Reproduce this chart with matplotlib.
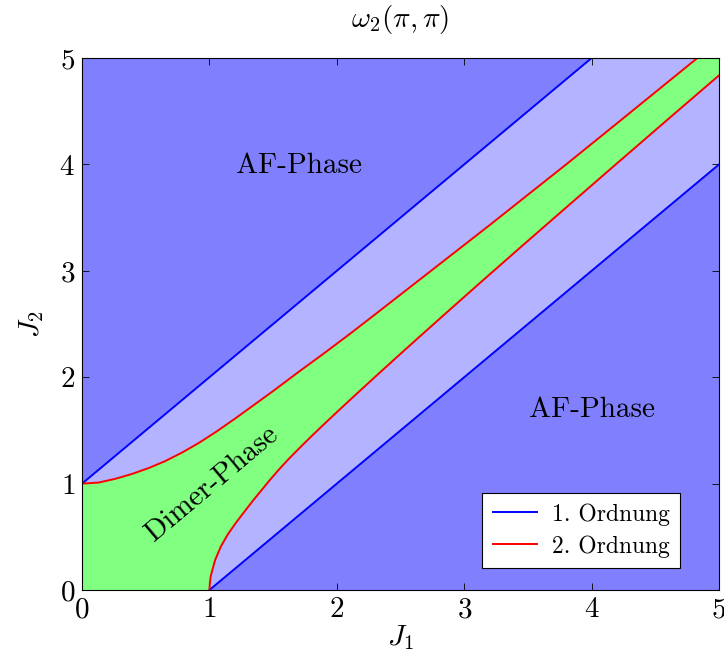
import numpy as np
import matplotlib
matplotlib.use("Agg")
import matplotlib.pyplot as plt

plt.rcParams['font.family'] = 'cmr10'
plt.rcParams['mathtext.fontset'] = 'cm'
plt.rcParams['axes.formatter.use_mathtext'] = True

# Grenzen 1. Ordnung (J2 = J1 +/- 1)
ord1_oben_x = [0, 4]
ord1_oben_y = [1, 5]
ord1_unten_x = [1, 5]
ord1_unten_y = [0, 4]

# Grenzen 2. Ordnung
ord2_oben_x = [0.0, 0.13, 0.26, 0.39, 0.52, 0.65, 0.79, 0.92, 1.05, 1.2, 1.35, 1.5,
               1.7, 1.9, 2.1, 2.3, 2.6, 2.9, 3.2, 3.5, 3.8, 4.1, 4.45, 4.83]
ord2_oben_y = [1.0, 1.01, 1.045, 1.09, 1.145, 1.21, 1.295, 1.385, 1.485, 1.61, 1.74, 1.87,
               2.05, 2.225, 2.405, 2.59, 2.87, 3.15, 3.43, 3.715, 4.0, 4.29, 4.63, 5.0]
ord2_unten_x = [1.0, 1.003, 1.01, 1.044, 1.09, 1.148, 1.21, 1.28, 1.345, 1.41, 1.475,
                1.54, 1.605, 1.67, 1.74, 1.816, 1.9, 1.986, 2.14, 2.30, 2.45, 2.6, 2.889,
                3.15, 3.438, 3.8, 4.2, 4.6, 5.0]
ord2_unten_y = [0.0, 0.06, 0.13, 0.28, 0.41, 0.53, 0.635, 0.745, 0.845, 0.94, 1.035,
                1.125, 1.21, 1.29, 1.374, 1.463, 1.559, 1.656, 1.827, 2.003, 2.166, 2.328,
                2.637, 2.914, 3.217, 3.595, 4.011, 4.425, 4.837]

ticks = [0, 1, 2, 3, 4, 5]

fig = plt.figure(figsize=(7.24, 6.67), dpi=100)
ax = fig.add_axes([0.1133, 0.1154, 0.8798, 0.7976])

#Hintergrund
ax.fill_between([0, 5], [0, 0], [5, 5], color="#8080ff", lw=0, zorder=0)

#Bereich zwischen den blauen Linien
px = [0, 0] + ord1_oben_x + [5, 5] + ord1_unten_x[::-1]
py = [0, 1] + ord1_oben_y + [5, 4] + ord1_unten_y[::-1]
ax.fill(px, py, color="#b3b3ff", lw=0, zorder=1)

#Dimer-Bereich zwischen den roten Linien
gx = [0] + ord2_oben_x + [5] + ord2_unten_x[::-1]
gy = [0] + ord2_oben_y + [5] + ord2_unten_y[::-1]
ax.fill(gx, gy, color="#80ff80", lw=0, zorder=2)

ax.plot(ord1_oben_x, ord1_oben_y, color="blue", lw=1.4, label="1. Ordnung", zorder=3)
ax.plot(ord1_unten_x, ord1_unten_y, color="blue", lw=1.4, zorder=3)
ax.plot(ord2_oben_x, ord2_oben_y, color="red", lw=1.4, label="2. Ordnung", zorder=3)
ax.plot(ord2_unten_x, ord2_unten_y, color="red", lw=1.4, zorder=3)

ax.text(1.70, 3.99, "AF-Phase", fontsize=21, ha="center", va="center", zorder=4)
ax.text(4.0, 1.69, "AF-Phase", fontsize=21, ha="center", va="center", zorder=4)
ax.text(1.02, 1.0, "Dimer-Phase", fontsize=21, ha="center", va="center",
        rotation=40, rotation_mode="anchor", zorder=4)

ax.set_xlim(0, 5)
ax.set_ylim(0, 5)
ax.set_xticks(ticks)
ax.set_yticks(ticks)
ax.tick_params(direction="in", top=True, right=True, labelsize=21, length=5, width=0.6, pad=5)
for s in ax.spines.values():
    s.set_linewidth(0.8)
    s.set_zorder(5)

ax.set_title(r"$\omega_2(\pi,\pi)$", fontsize=21, pad=22)
ax.set_xlabel(r"$J_1$", fontsize=21, labelpad=0)
ax.set_ylabel(r"$J_2$", fontsize=21, labelpad=10)

leg = ax.legend(loc="lower right", bbox_to_anchor=(0.939, 0.041), borderaxespad=0,
                fontsize=17, fancybox=False, framealpha=1, edgecolor="black",
                handlelength=1.9, handletextpad=0.6, borderpad=0.45, labelspacing=0.4)
leg.get_frame().set_linewidth(0.8)
leg.set_zorder(6)

plt.savefig("out.png", dpi=100)
